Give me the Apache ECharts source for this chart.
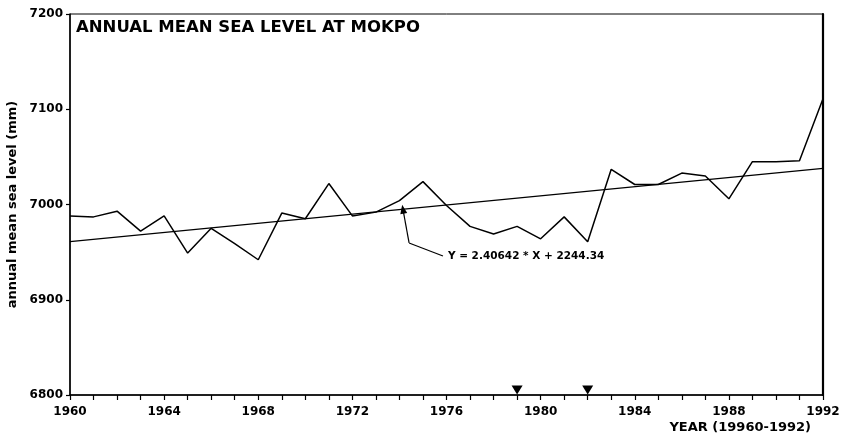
<!DOCTYPE html>
<html>
<head>
<meta charset="utf-8">
<script src="https://cdn.jsdelivr.net/npm/echarts@6/dist/echarts.min.js"></script>
<style>
  html, body { margin: 0; padding: 0; background: #fff; }
  #chart { width: 842px; height: 440px; }
</style>
</head>
<body>
<div id="chart"></div>
<script>
// Annual mean sea level at Mokpo, 1960-1992 (mm)
const years = [1960, 1961, 1962, 1963, 1964, 1965, 1966, 1967, 1968, 1969, 1970,
  1971, 1972, 1973, 1974, 1975, 1976, 1977, 1978, 1979, 1980, 1981, 1982,
  1983, 1984, 1985, 1986, 1987, 1988, 1989, 1990, 1991, 1992];
const seaLevel = [6988, 6987, 6993, 6972, 6988, 6949, 6975, 6959, 6942, 6991, 6985,
  7022, 6988, 6992, 7004, 7024, 6999, 6977, 6969, 6977, 6964, 6987, 6961,
  7037, 7021, 7021, 7033, 7030, 7006, 7045, 7045, 7046, 7111];

// Least-squares fit stated on the chart: Y = 2.40642 * X + 2244.34
const slope = 2.40642;
const intercept = 2244.34;
const fitYears = [1960, 1992];

// Years flagged with markers along the bottom axis
const markerYears = [1979, 1982];

const yTicks = [6800, 6900, 7000, 7100, 7200];
const xRange = [1960, 1992];

const fit = x => slope * x + intercept;
const FONT = 'DejaVu Sans';

const chart = echarts.init(document.getElementById('chart'), null, { renderer: 'canvas' });

// leader from the equation label to the fitted line
const labelAnchor = [1975.85, 6945.9];
const elbow = [1974.41, 6959.6];
const tipYear = 1974.15;

chart.setOption({
  animation: false,
  backgroundColor: '#fff',
  title: {
    text: 'ANNUAL MEAN SEA LEVEL AT MOKPO',
    left: 71, top: 14,
    textStyle: { fontFamily: FONT, fontWeight: 'bold', fontSize: 16.5, color: '#000' }
  },
  grid: {
    left: 70, right: 19, top: 14, bottom: 45,
    outerBoundsMode: 'none', containLabel: false,
    show: true, borderColor: '#000', borderWidth: 1
  },
  xAxis: {
    type: 'value', min: xRange[0], max: xRange[1], interval: 1,
    axisLine: { show: true, lineStyle: { color: '#000', width: 1.5 } },
    axisTick: { show: true, inside: false, length: 5, lineStyle: { color: '#000', width: 1.2 } },
    axisLabel: {
      formatter: v => (v % 4 === 0 ? String(v) : ''),
      fontFamily: FONT, fontWeight: 'bold', fontSize: 12, color: '#000', margin: 11,
      hideOverlap: false
    },
    splitLine: { show: false }
  },
  yAxis: [{
    type: 'value', min: yTicks[0], max: yTicks[yTicks.length - 1], interval: 100,
    axisLine: { show: true, lineStyle: { color: '#000', width: 1.5 } },
    axisTick: { show: true, inside: false, length: 4, lineStyle: { color: '#000', width: 1.2 } },
    axisLabel: {
      formatter: v => String(v),
      fontFamily: FONT, fontWeight: 'bold', fontSize: 12, color: '#000', margin: 7
    },
    splitLine: { show: false },
    name: 'annual mean sea level (mm)',
    nameLocation: 'middle', nameRotate: 90, nameGap: 50,
    nameTextStyle: { fontFamily: FONT, fontWeight: 'bold', fontSize: 13, color: '#000' }
  }, {
    type: 'value', position: 'right', min: yTicks[0], max: yTicks[yTicks.length - 1],
    axisLine: { show: true, lineStyle: { color: '#000', width: 2.2 } },
    axisTick: { show: false }, axisLabel: { show: false }, splitLine: { show: false }
  }],
  series: [{
    name: 'sea level',
    type: 'line',
    data: years.map((y, i) => [y, seaLevel[i]]),
    showSymbol: false, symbol: 'none',
    lineStyle: { color: '#000', width: 1.5 },
    z: 3
  }, {
    name: 'fit',
    type: 'line',
    data: fitYears.map(y => [y, fit(y)]),
    showSymbol: false, symbol: 'none',
    lineStyle: { color: '#000', width: 1.3 },
    z: 2,
    markLine: {
      silent: true, animation: false,
      label: { show: false },
      lineStyle: { color: '#000', width: 1.2, type: 'solid' },
      data: [
        [{ coord: labelAnchor, symbol: 'none' }, { coord: elbow, symbol: 'none' }],
        [{ coord: elbow, symbol: 'none' }, { coord: [tipYear, fit(tipYear)], symbol: 'triangle', symbolSize: [7, 9] }]
      ]
    }
  }, {
    name: 'markers',
    type: 'scatter',
    data: markerYears.map(y => [y, yTicks[0]]),
    symbol: 'triangle', symbolRotate: 180, symbolSize: [11, 9], symbolOffset: [0, -5],
    itemStyle: { color: '#000', opacity: 1 },
    emphasis: { disabled: true },
    clip: false, z: 4
  }]
});

// equation label beside the leader, placed in data space
const eqPos = chart.convertToPixel({ gridIndex: 0 }, [1976.06, 6945.9]);
chart.setOption({
  graphic: [{
    type: 'text', x: eqPos[0], y: eqPos[1],
    style: {
      text: 'Y = 2.40642 * X + 2244.34',
      font: 'bold 10.5px "DejaVu Sans"', fill: '#000',
      textAlign: 'left', textVerticalAlign: 'middle'
    }
  }, {
    type: 'text', right: 31, top: 421,
    style: {
      text: 'YEAR (19960-1992)',
      font: 'bold 13px "DejaVu Sans"', fill: '#000',
      textAlign: 'right'
    }
  }]
});
</script>
</body>
</html>
